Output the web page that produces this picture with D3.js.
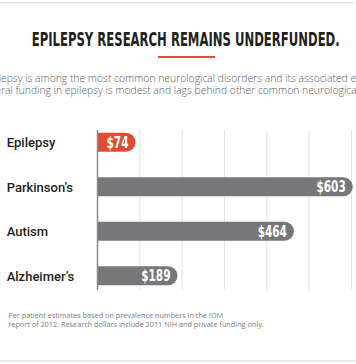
<!DOCTYPE html>
<html><head><meta charset="utf-8">
<script src="https://cdn.jsdelivr.net/npm/d3@7"></script>
<style>
html,body{margin:0;padding:0;background:#fff;overflow:hidden;}
svg{display:block;}
</style></head>
<body>
<script>
const title = "EPILEPSY RESEARCH REMAINS UNDERFUNDED.";
const subtitleLines = [
  "Epilepsy is among the most common neurological disorders and its associated economic burden",
  "Federal funding in epilepsy is modest and lags behind other common neurological disorders."
];
const categories = ["Epilepsy", "Parkinson’s", "Autism", "Alzheimer’s"];
const values = [74, 603, 464, 189];
const highlight = ["Epilepsy"];
const gridTicks = [0, 100, 200, 300, 400, 500, 600];
const footnote = [
  "Per patient estimates based on prevalence numbers in the IOM",
  "report of 2012. Research dollars include 2011 NIH and private funding only."
];

const W = 356, H = 364;
const svg = d3.select("body").append("svg").attr("width", W).attr("height", H);

// frame lines
svg.append("rect").attr("x", 0).attr("y", 2).attr("width", 355).attr("height", 1.5).attr("fill", "#e6e6e6");
svg.append("rect").attr("x", 0).attr("y", 360).attr("width", W).attr("height", 2).attr("fill", "#ebebeb");

const condensed = "'Liberation Sans Narrow','DejaVu Sans Condensed','Roboto Condensed',sans-serif";

// title
svg.append("text").attr("x", 31.7).attr("y", 45.7)
  .attr("font-family", condensed).attr("font-weight", 700).attr("font-size", 19.2)
  .attr("fill", "#231f20")
  .attr("textLength", 308).attr("lengthAdjust", "spacingAndGlyphs")
  .text(title);
svg.append("rect").attr("x", 158).attr("y", 56).attr("width", 57).attr("height", 2).attr("fill", "#e04b37");

// subtitle (overflowing, cropped by the window)
const subFs = 10.5;
const sub1 = svg.append("text").attr("y", 82).attr("font-family", "'Open Sans',sans-serif")
  .attr("font-weight", 300)
  .attr("font-size", subFs).attr("fill", "#5a5a5a").text(subtitleLines[0]);
const sub2 = svg.append("text").attr("y", 94).attr("font-family", "'Open Sans',sans-serif")
  .attr("font-weight", 300)
  .attr("font-size", subFs).attr("fill", "#5a5a5a").text(subtitleLines[1]);
(function fit(){
  const n1 = sub1.node();
  const iStart = 4; // 'e' of "epsy"
  const iEnd = subtitleLines[0].indexOf("associated e") + "associated ".length;
  const span = n1.getStartPositionOfChar(iEnd).x - n1.getStartPositionOfChar(iStart).x;
  const fs = subFs * 350 / span;
  sub1.attr("font-size", fs); sub2.attr("font-size", fs);
  const off1 = n1.getStartPositionOfChar(iStart).x;
  sub1.attr("x", 1 - off1);
  const n2 = sub2.node();
  const off2 = n2.getStartPositionOfChar(4).x; // 'r' of "ral"
  sub2.attr("x", 1 - off2);
})();

// chart
const x = d3.scaleLinear().domain([0, 600]).range([97.5, 351.5]);
const y = d3.scalePoint().domain(categories).range([120, 298]).padding(0.5);
const barH = 19;

const g = svg.append("g");
g.selectAll("line.grid").data(gridTicks.slice(1)).join("line")
  .attr("class", "grid")
  .attr("x1", d => x(d)).attr("x2", d => x(d))
  .attr("y1", 130).attr("y2", 290)
  .attr("stroke", "#e2e2e2").attr("stroke-width", 1);

const data = categories.map((c, i) => ({c, v: values[i]}));

const rows = g.selectAll("g.row").data(data).join("g").attr("class", "row");
rows.each(function(d){
  const r = d3.select(this);
  const x0 = x(0), yc = y(d.c);
  const lab = r.append("text")
    .attr("font-family", condensed).attr("font-weight", 700).attr("font-size", 15)
    .attr("fill", "#fff").attr("text-anchor", "end")
    .text("$" + d.v);
  const natural = lab.node().getComputedTextLength();
  const tw = natural * 0.78;
  lab.attr("textLength", tw).attr("lengthAdjust", "spacingAndGlyphs");
  const w = Math.max(x(d.v) - x0, tw + 16);
  const rr = barH / 2;
  const p = d3.path();
  p.moveTo(x0, yc - rr);
  p.lineTo(x0 + w - rr, yc - rr);
  p.arc(x0 + w - rr, yc, rr, -Math.PI / 2, Math.PI / 2);
  p.lineTo(x0, yc + rr);
  p.closePath();
  r.insert("path", "text").attr("d", p.toString())
    .attr("fill", highlight.includes(d.c) ? "#e04b35" : "#77777a");
  lab.attr("x", x0 + w - 7).attr("y", yc + 5.4);
  r.append("text").attr("x", 6.7).attr("y", yc + 4.8)
    .attr("font-family", "Roboto,sans-serif").attr("font-weight", 500).attr("font-size", 13)
    .attr("fill", "#231f20").text(d.c);
});

g.append("line").attr("x1", x(0)).attr("x2", x(0)).attr("y1", 130).attr("y2", 290)
  .attr("stroke", "#8a8a8a").attr("stroke-width", 1.5);

// footnote
svg.append("g").selectAll("text").data(footnote).join("text")
  .attr("x", 8.3).attr("y", (d, i) => 318 + i * 9.4)
  .attr("font-family", "'Open Sans',sans-serif").attr("font-size", 7.3)
  .attr("fill", "#7a7a7a").text(d => d);
</script>
</body></html>
